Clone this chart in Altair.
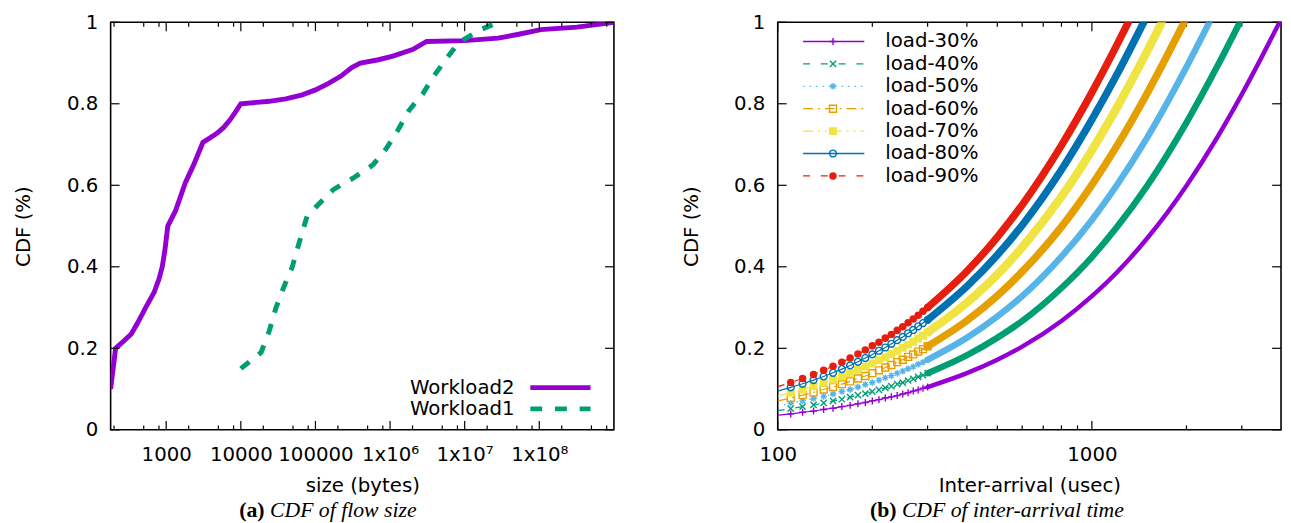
import altair as alt
import pandas as pd

W, H = 510, 413
FONT = "DejaVu Sans"
SERIF = "Liberation Serif"

# ---------------- (a) CDF of flow size ----------------
w2_size = [180, 210, 270, 340, 413, 530, 687, 800, 885, 960, 1050, 1330, 1800, 2330, 3100,
           4740, 5900, 7130, 8500, 10000, 24000, 40000, 66700, 100000, 150000, 220000,
           306000, 400000, 700000, 1090000, 2000000, 3100000, 10000000, 28000000, 51000000,
           105000000, 320000000, 1000000000]
w2_cdf = [0.10, 0.20, 0.218, 0.235, 0.262, 0.30, 0.337, 0.37, 0.40, 0.44, 0.50, 0.537,
          0.606, 0.65, 0.705, 0.727, 0.742, 0.76, 0.78, 0.80, 0.806, 0.812, 0.822, 0.834,
          0.85, 0.868, 0.889, 0.90, 0.908, 0.917, 0.933, 0.953, 0.955, 0.961, 0.97, 0.982,
          0.988, 1.0]
w1_size = [10000, 18700, 24100, 29600, 38000, 49000, 60000, 74000, 77600, 111000, 175000,
           323000, 590000, 890000, 1270000, 1800000, 2730000, 3900000, 5600000, 8300000,
           15500000, 28000000]
w1_cdf = [0.15, 0.19, 0.243, 0.30, 0.352, 0.40, 0.457, 0.513, 0.525, 0.554, 0.59, 0.618,
          0.65, 0.69, 0.735, 0.784, 0.824, 0.869, 0.909, 0.95, 0.98, 1.0]
size_domain = [180, 1e9]
size_major = [1e3, 1e4, 1e5, 1e6, 1e7, 1e8]
size_major_labels = ["1000", "10000", "100000", "1x10⁶", "1x10⁷", "1x10⁸"]
size_minor = [200, 500, 800, 2e3, 5e3, 8e3, 2e4, 5e4, 8e4, 2e5, 5e5, 8e5, 2e6, 5e6, 8e6,
              2e7, 5e7, 8e7, 2e8, 5e8, 8e8]
cdf_ticks = [0, 0.2, 0.4, 0.6, 0.8, 1.0]

# ---------------- (b) CDF of inter-arrival time ----------------
loads = ["load-30%", "load-40%", "load-50%", "load-60%", "load-70%", "load-80%", "load-90%"]
t_first = 100
f_first = [0.036, 0.047, 0.059, 0.071, 0.083, 0.095, 0.106]
t_marks = [110, 120, 130, 140, 150, 160, 170, 180, 190, 200,
           210, 220, 230, 240, 250, 260, 270, 280, 290, 300]
f_marks = [
    [0.039, 0.043, 0.046, 0.050, 0.053, 0.057, 0.060, 0.064, 0.067, 0.071,
     0.074, 0.078, 0.081, 0.084, 0.088, 0.091, 0.095, 0.098, 0.102, 0.105],
    [0.052, 0.057, 0.061, 0.066, 0.071, 0.075, 0.080, 0.085, 0.089, 0.094,
     0.098, 0.103, 0.107, 0.112, 0.116, 0.121, 0.125, 0.130, 0.134, 0.139],
    [0.065, 0.071, 0.077, 0.082, 0.088, 0.094, 0.099, 0.105, 0.111, 0.116,
     0.122, 0.128, 0.133, 0.139, 0.144, 0.150, 0.155, 0.161, 0.166, 0.172],
    [0.078, 0.085, 0.092, 0.099, 0.105, 0.112, 0.119, 0.126, 0.132, 0.139,
     0.146, 0.153, 0.159, 0.166, 0.172, 0.179, 0.185, 0.192, 0.198, 0.205],
    [0.091, 0.099, 0.107, 0.115, 0.123, 0.131, 0.139, 0.147, 0.155, 0.163,
     0.171, 0.178, 0.186, 0.194, 0.201, 0.209, 0.216, 0.224, 0.231, 0.239],
    [0.104, 0.113, 0.122, 0.131, 0.140, 0.149, 0.158, 0.167, 0.176, 0.185,
     0.194, 0.202, 0.211, 0.220, 0.228, 0.237, 0.245, 0.254, 0.262, 0.270],
    [0.116, 0.126, 0.136, 0.146, 0.156, 0.166, 0.176, 0.186, 0.196, 0.206,
     0.215, 0.225, 0.234, 0.244, 0.253, 0.263, 0.272, 0.281, 0.291, 0.300],
]
t_upper = [400, 500, 600, 800, 1000, 1200, 1500, 2000, 2500, 3000, 3500]
f_upper = [
    [0.139, 0.172, 0.204, 0.267, 0.328, 0.386, 0.470, 0.599, 0.716, 0.823, 0.920],
    [0.183, 0.226, 0.267, 0.348, 0.424, 0.497, 0.599, 0.754, 0.890],
    [0.226, 0.278, 0.328, 0.425, 0.515, 0.600, 0.717, 0.890],
    [0.268, 0.329, 0.388, 0.498, 0.601, 0.696, 0.826],
    [0.312, 0.381, 0.448, 0.572, 0.686, 0.790, 0.929],
    [0.352, 0.429, 0.502, 0.638, 0.761, 0.871],
    [0.389, 0.473, 0.552, 0.698, 0.828, 0.944],
]
t_end = [3955, 2959, 2366, 1967, 1670, 1462, 1306]
f_end = 1.0
t_domain = [100, 4000]
t_major = [100, 1000]
t_minor = [200, 300, 400, 500, 600, 700, 800, 900, 2000, 3000]

# ---------------- styles ----------------
colors = ["#9400d3", "#009e73", "#56b4e9", "#e69f00", "#f0e442", "#0072b2", "#e51e10"]
dashes = [None, [7, 11], [1.5, 5], [10, 5, 2, 5], [10, 5, 2, 5, 2, 5], None, [7, 11]]
PLUS = "M-1,0L1,0M0,-1L0,1"
XSYM = "M-1,-1L1,1M-1,1L1,-1"
STAR = "M-1,0L1,0M0,-1L0,1M-0.7,-0.7L0.7,0.7M-0.7,0.7L0.7,-0.7"
shapes = [PLUS, XSYM, STAR, "square", "square", "circle", "circle"]
filleds = [False, False, False, False, True, False, True]
msizes = [50, 40, 44, 50, 64, 48, 58]
bandw = [4.5, 6.5, 6.5, 7.5, 8.5, 7.5, 7.5]

ys = alt.Scale(domain=[0, 1], nice=False, zero=False)
yaxis = alt.Axis(values=cdf_ticks, format="~g", title="CDF (%)", ticks=False, domain=False,
                 grid=False, labelPadding=13, titlePadding=33)


def label_expr(vals, labels):
    parts = [f"datum.value == {float(v)} ? '{l}'" for v, l in zip(vals, labels)]
    return " : ".join(parts) + " : ''"


def tick_layers(xscale, xaxis, x_major, x_minor):
    out = []
    for vals, ln in [(x_major, 9), (x_minor, 4.5)]:
        base = alt.Chart(pd.DataFrame({"v": vals})).mark_rule(color="black", strokeWidth=1.2)
        out.append(base.encode(x=alt.X("v:Q", scale=xscale, axis=xaxis),
                               y=alt.value(H), y2=alt.value(H - ln)))
        out.append(base.encode(x=alt.X("v:Q", scale=xscale, axis=xaxis),
                               y=alt.value(0), y2=alt.value(ln)))
    base = alt.Chart(pd.DataFrame({"v": cdf_ticks})).mark_rule(color="black", strokeWidth=1.2)
    out.append(base.encode(y=alt.Y("v:Q", scale=ys, axis=yaxis),
                           x=alt.value(0), x2=alt.value(9)))
    out.append(base.encode(y=alt.Y("v:Q", scale=ys, axis=yaxis),
                           x=alt.value(W), x2=alt.value(W - 9)))
    return out


# ---------------- panel (a) ----------------
xs_a = alt.Scale(type="log", domain=size_domain, nice=False)
xaxis_a = alt.Axis(values=size_major, labelExpr=label_expr(size_major, size_major_labels),
                   title="size (bytes)", ticks=False, domain=False, grid=False,
                   labelFlush=False, labelOverlap=False, labelPadding=15, titlePadding=12)

df_w2 = pd.DataFrame({"size": w2_size, "cdf": w2_cdf})
df_w1 = pd.DataFrame({"size": w1_size, "cdf": w1_cdf})

line_w2 = alt.Chart(df_w2).mark_line(color="#9400d3", strokeWidth=5, clip=True).encode(
    x=alt.X("size:Q", scale=xs_a, axis=xaxis_a),
    y=alt.Y("cdf:Q", scale=ys, axis=yaxis),
    order="size:Q")
line_w1 = alt.Chart(df_w1).mark_line(color="#009e73", strokeWidth=5, clip=True,
                                     strokeDash=[11, 12]).encode(
    x=alt.X("size:Q", scale=xs_a, axis=xaxis_a),
    y=alt.Y("cdf:Q", scale=ys, axis=yaxis),
    order="size:Q")

leg_a_names = ["Workload2", "Workload1"]
leg_a_colors = ["#9400d3", "#009e73"]
leg_a_dash = [None, [12, 13]]
leg_a = []
for i, (nm, col, dsh) in enumerate(zip(leg_a_names, leg_a_colors, leg_a_dash)):
    yy = 370.2 + i * 21.6
    one = alt.Chart(pd.DataFrame({"name": [nm]}))
    kw = {"strokeDash": dsh} if dsh else {}
    leg_a.append(one.mark_rule(color=col, strokeWidth=5, **kw).encode(
        x=alt.value(425.3), x2=alt.value(486.3), y=alt.value(yy)))
    leg_a.append(one.mark_text(align="right", baseline="middle", font=FONT, fontSize=20,
                               color="black").encode(
        x=alt.value(409.3), y=alt.value(yy), text="name:N"))

cap_a = alt.Chart(pd.DataFrame({"t": ["(a)"]})).mark_text(
    align="left", baseline="alphabetic", font=SERIF, fontSize=22, fontWeight="bold",
    color="black").encode(x=alt.value(130.3), y=alt.value(H + 88.5), text="t:N")
cap_a2 = alt.Chart(pd.DataFrame({"t": ["CDF of flow size"]})).mark_text(
    align="left", baseline="alphabetic", font=SERIF, fontSize=22, fontStyle="italic",
    color="black").encode(x=alt.value(161.5), y=alt.value(H + 88.5), text="t:N")

panel_a = alt.layer(line_w2, line_w1, *tick_layers(xs_a, xaxis_a, size_major, size_minor),
                    *leg_a, cap_a, cap_a2).properties(width=W, height=H)

# ---------------- panel (b) ----------------
xs_b = alt.Scale(type="log", domain=t_domain, nice=False)
xaxis_b = alt.Axis(values=t_major, format="d", title="Inter-arrival (usec)", ticks=False,
                   domain=False, grid=False, labelFlush=False, labelOverlap=False,
                   labelPadding=15, titlePadding=12)

layers_b = tick_layers(xs_b, xaxis_b, t_major, t_minor)

for i, name in enumerate(loads):
    ups = [(t, f) for t, f in zip(t_upper, f_upper[i]) if t < t_end[i]]
    all_t = [t_first] + t_marks + [u[0] for u in ups] + [t_end[i]]
    all_f = [f_first[i]] + f_marks[i] + [u[1] for u in ups] + [f_end]
    df_all = pd.DataFrame({"t": all_t, "f": all_f})
    band_t = [t_marks[-1]] + [u[0] for u in ups] + [t_end[i]]
    band_f = [f_marks[i][-1]] + [u[1] for u in ups] + [f_end]
    df_band = pd.DataFrame({"t": band_t, "f": band_f})
    df_mk = pd.DataFrame({"t": t_marks, "f": f_marks[i]})
    kw = {"strokeDash": dashes[i]} if dashes[i] else {}
    enc = dict(x=alt.X("t:Q", scale=xs_b, axis=xaxis_b), y=alt.Y("f:Q", scale=ys, axis=yaxis))
    layers_b.append(alt.Chart(df_all).mark_line(color=colors[i], strokeWidth=1.2, clip=True,
                                                interpolate="monotone", **kw).encode(
        order="t:Q", **enc))
    layers_b.append(alt.Chart(df_band).mark_line(color=colors[i], strokeWidth=bandw[i],
                                                 clip=True, interpolate="monotone",
                                                 strokeCap="round").encode(
        order="t:Q", **enc))
    layers_b.append(alt.Chart(df_mk).mark_point(
        clip=True, shape=shapes[i], filled=filleds[i], size=msizes[i], color=colors[i],
        opacity=1, strokeWidth=1.4).encode(**enc))

# legend (b)
for i, name in enumerate(loads):
    yy = 19.5 + i * 22.7
    one = alt.Chart(pd.DataFrame({"name": [name]}))
    kw = {"strokeDash": dashes[i]} if dashes[i] else {}
    layers_b.append(one.mark_rule(color=colors[i], strokeWidth=1.3, **kw).encode(
        x=alt.value(25.7), x2=alt.value(87.7), y=alt.value(yy)))
    layers_b.append(one.mark_point(shape=shapes[i], filled=filleds[i], size=msizes[i],
                                   color=colors[i], opacity=1, strokeWidth=1.4).encode(
        x=alt.value(56), y=alt.value(yy)))
    layers_b.append(one.mark_text(align="left", baseline="middle", font=FONT, fontSize=20,
                                  color="black").encode(
        x=alt.value(109), y=alt.value(yy), text="name:N"))

cap_b = alt.Chart(pd.DataFrame({"t": ["(b)"]})).mark_text(
    align="left", baseline="alphabetic", font=SERIF, fontSize=22, fontWeight="bold",
    color="black").encode(x=alt.value(93.4), y=alt.value(H + 88.5), text="t:N")
cap_b2 = alt.Chart(pd.DataFrame({"t": ["CDF of inter-arrival time"]})).mark_text(
    align="left", baseline="alphabetic", font=SERIF, fontSize=22, fontStyle="italic",
    color="black").encode(x=alt.value(125.8), y=alt.value(H + 88.5), text="t:N")
layers_b += [cap_b, cap_b2]

panel_b = alt.layer(*layers_b).properties(width=W, height=H)

chart = alt.hconcat(panel_a, panel_b, spacing=65).properties(
    padding={"left": 5, "top": 0, "right": 0, "bottom": 0}, background="white"
).configure_view(stroke="black", strokeWidth=1.6).configure_axis(
    labelFont=FONT, labelFontSize=20, labelColor="black",
    titleFont=FONT, titleFontSize=20, titleColor="black", titleFontWeight="normal"
)

chart.save("out.html", embed_options={"renderer": "svg", "actions": False})
